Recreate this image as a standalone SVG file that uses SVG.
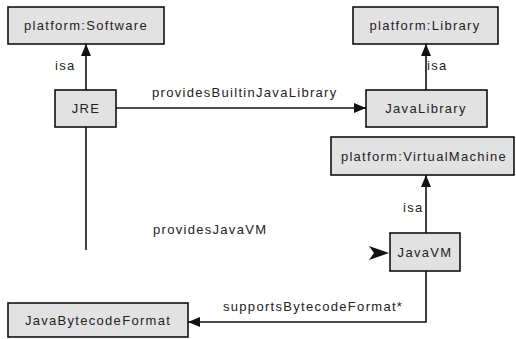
<svg xmlns="http://www.w3.org/2000/svg" width="516" height="339" viewBox="0 0 516 339">
<style>
.box{fill:#e2e2e2;stroke:#111;stroke-width:1.6}
.t{font-family:"Liberation Sans",Arial,sans-serif;font-size:13px;letter-spacing:1.3px;fill:#222}
.c{text-anchor:middle}
.ln{fill:none;stroke:#111;stroke-width:1.6}
</style>
<defs>
<marker id="ah" viewBox="0 0 12 10" refX="12" refY="5" markerWidth="12" markerHeight="10" markerUnits="userSpaceOnUse" orient="auto">
<path d="M0,0 L12,5 L0,10 Z" fill="#111"/>
</marker>
</defs>
<g id="connectors">
<path class="ln" d="M86,90 V44" marker-end="url(#ah)"/>
<text class="t" x="55" y="70">isa</text>
<path class="ln" d="M116,108 H366" marker-end="url(#ah)"/>
<text class="t" x="152" y="97">providesBuiltinJavaLibrary</text>
<path class="ln" d="M426,90 V44" marker-end="url(#ah)"/>
<text class="t" x="427" y="70">isa</text>
<path class="ln" d="M426,233 V175" marker-end="url(#ah)"/>
<text class="t" x="403" y="212">isa</text>
<path class="ln" d="M86,127 V250"/>
<path d="M369,246 L389,253 L369,260 L374,253 Z" fill="#111"/>
<text class="t" x="153" y="234">providesJavaVM</text>
<path class="ln" d="M426,271 V322 H188" marker-end="url(#ah)"/>
<text class="t" x="223" y="311">supportsBytecodeFormat*</text>
</g>
<g id="software"><rect class="box" x="8" y="7" width="156" height="37"/><text class="t c" x="86" y="30">platform:Software</text></g>
<g id="library"><rect class="box" x="353" y="7" width="145" height="37"/><text class="t c" x="425" y="30">platform:Library</text></g>
<g id="jre"><rect class="box" x="55" y="90" width="61" height="37"/><text class="t c" x="86" y="113">JRE</text></g>
<g id="javalibrary"><rect class="box" x="366" y="90" width="121" height="37"/><text class="t c" x="426" y="113">JavaLibrary</text></g>
<g id="vm"><rect class="box" x="331" y="137" width="183" height="38"/><text class="t c" x="424" y="161">platform:VirtualMachine</text></g>
<g id="javavm"><rect class="box" x="390" y="233" width="70" height="38"/><text class="t c" x="425" y="257">JavaVM</text></g>
<g id="bytecode"><rect class="box" x="8" y="303" width="180" height="34"/><text class="t c" x="98" y="325">JavaBytecodeFormat</text></g>
</svg>
